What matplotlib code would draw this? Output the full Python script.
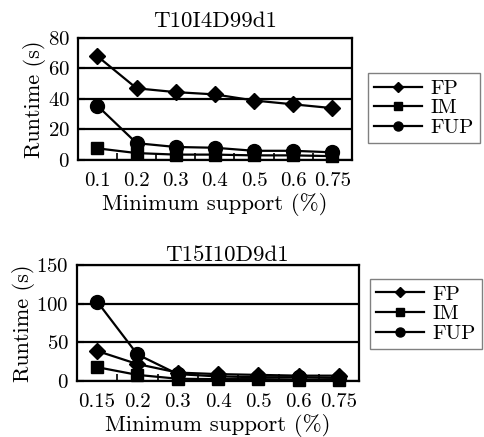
import matplotlib.pyplot as plt
import numpy as np

plt.rcParams['font.family'] = ['cmr10', 'DejaVu Serif']
plt.rcParams['axes.formatter.use_mathtext'] = True
plt.rcParams['font.size'] = 15

# data
labels_top = ['0.1', '0.2', '0.3', '0.4', '0.5', '0.6', '0.75']
fp_top = [68, 47, 44.5, 43, 39, 36.5, 34]
im_top = [7.6, 4.5, 3.5, 3.5, 3, 3, 2.5]
fup_top = [35.5, 11, 8.5, 8, 6, 6, 5]

labels_bot = ['0.15', '0.2', '0.3', '0.4', '0.5', '0.6', '0.75']
fp_bot = [39, 22, 11, 9, 8, 7, 7]
im_bot = [18, 8, 3, 2.5, 2.5, 2, 2]
fup_bot = [103, 34.5, 9, 6, 5, 5, 4]

series = ['FP', 'IM', 'FUP']
markers = {'FP': ('D', 8), 'IM': ('s', 9), 'FUP': ('o', 10)}

fig = plt.figure(figsize=(4.84, 4.37), dpi=100)


def draw(ax, labels, data, ymax, step, title, title_pad, title_x, legend_xy):
    x = np.arange(len(labels))
    for name, vals in zip(series, data):
        m, ms = markers[name]
        ax.plot(x, vals, color='black', lw=1.6, marker=m, markersize=ms,
                label=name, clip_on=False, zorder=3)
    ax.set_xlim(-0.5, len(labels) - 0.5)
    ax.set_ylim(0, ymax)
    ax.set_yticks(np.arange(0, ymax + 1, step))
    ax.set_xticks(x)
    ax.set_xticklabels(labels)
    ax.set_xticks(x[:-1] + 0.5, minor=True)
    ax.tick_params(axis='x', which='major', length=0, pad=9, labelsize=15)
    ax.tick_params(axis='x', which='minor', direction='in', length=5, width=1.2)
    ax.tick_params(axis='y', direction='in', length=5, width=1.5, pad=6,
                   labelsize=15)
    ax.grid(axis='y', color='black', lw=1.6)
    ax.set_axisbelow(True)
    for s in ax.spines.values():
        s.set_linewidth(1.6)
    ax.set_title(title, fontsize=16.5, pad=title_pad, x=title_x)
    ax.set_xlabel('Minimum support (%)', fontsize=16.5, labelpad=2)
    ax.set_ylabel('Runtime (s)', fontsize=16, labelpad=1)
    fig.legend(*ax.get_legend_handles_labels(), loc='upper left',
               bbox_to_anchor=legend_xy, fancybox=False, edgecolor='gray',
               fontsize=15, markerscale=0.65,
               handlelength=2.3, handletextpad=0.4, labelspacing=0.05,
               borderpad=0.3, borderaxespad=0, framealpha=1)


ax1 = fig.add_axes([0.161, 0.634, 0.566, 0.279])
draw(ax1, labels_top, [fp_top, im_top, fup_top], 80, 20, 'T10I4D99d1',
     8, 0.5, (0.760, 0.833))

ax2 = fig.add_axes([0.159, 0.128, 0.583, 0.265])
draw(ax2, labels_bot, [fp_bot, im_bot, fup_bot], 150, 50, 'T15I10D9d1',
     3, 0.53, (0.764, 0.362))

fig.savefig('out.png', dpi=100)
